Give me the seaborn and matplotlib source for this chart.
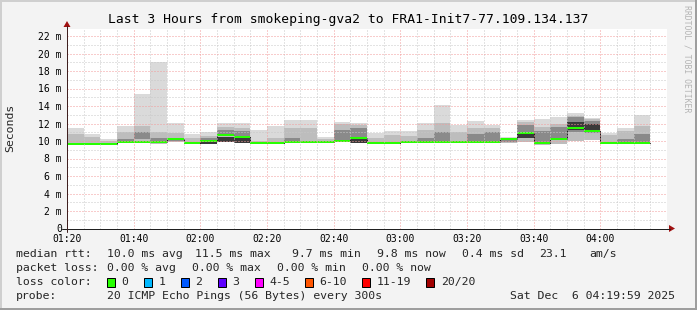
import numpy as np
import matplotlib
matplotlib.use("Agg")
import matplotlib.pyplot as plt
from matplotlib.ticker import MultipleLocator, FixedLocator
from matplotlib.patches import Polygon, Rectangle
import pandas as pd
import seaborn as sns

# ---------------- data ----------------
time_labels = ["01:20", "01:40", "02:00", "02:20", "02:40", "03:00", "03:20", "03:40", "04:00"]
step_min = 5
median_ms = [9.69, 9.69, 9.69, 9.85, 9.85, 9.92, 10.19, 9.81, 10.04, 10.65, 10.49, 9.81,
             9.81, 9.89, 9.89, 9.89, 10.04, 10.34, 9.73, 9.73, 9.89, 9.89, 9.89, 9.89,
             9.89, 9.89, 10.27, 10.95, 9.81, 10.27, 11.49, 11.18, 9.81, 9.81, 9.81]
smoke_low = [9.62, 9.62, 9.62, 9.78, 9.78, 9.70, 9.90, 9.70, 9.70, 9.85, 9.73, 9.75,
             9.75, 9.80, 9.80, 9.80, 9.90, 9.80, 9.70, 9.70, 9.80, 9.80, 9.80, 9.80,
             9.80, 9.80, 9.80, 9.90, 9.50, 9.70, 10.00, 10.10, 9.75, 9.75, 9.75]
smoke_high = [11.52, 10.83, 10.20, 11.75, 15.40, 19.00, 12.02, 10.80, 11.03, 12.02, 12.02, 11.26,
              11.71, 12.40, 12.40, 10.42, 12.17, 12.02, 10.88, 11.10, 11.10, 12.09, 14.15, 11.79,
              12.32, 11.79, 10.50, 12.40, 12.55, 12.78, 13.24, 12.63, 10.88, 11.49, 13.00]
smoke_mid = [10.83, 10.46, 9.95, 11.06, 11.75, 11.00, 10.95, 10.30, 10.60, 11.60, 11.50, 10.00,
             10.30, 11.45, 11.45, 10.20, 11.90, 11.80, 10.40, 10.70, 10.60, 11.30, 12.09, 11.00,
             11.50, 11.50, 10.40, 12.20, 11.60, 12.00, 12.90, 12.50, 10.70, 11.10, 11.70]
core_low = [9.62, 9.62, 9.62, 9.90, 10.20, 9.90, 10.00, 9.70, 9.85, 10.60, 10.50, 9.75,
            9.75, 9.90, 9.80, 9.80, 10.00, 10.40, 9.70, 9.70, 9.80, 9.90, 9.90, 9.80,
            10.00, 9.90, 9.90, 10.30, 9.90, 10.10, 11.00, 10.90, 9.75, 9.90, 9.90]
core_high = [9.62, 9.62, 9.62, 10.20, 11.06, 10.30, 10.40, 9.70, 10.30, 11.30, 11.20, 9.75,
             9.75, 10.30, 9.80, 9.80, 11.30, 11.50, 9.70, 9.70, 9.80, 10.30, 11.00, 9.80,
             10.80, 11.00, 10.30, 11.80, 11.20, 11.60, 12.70, 12.30, 9.75, 10.20, 10.80]
dark_low = [9.62, 9.62, 9.62, 9.78, 9.78, 9.70, 9.90, 9.70, 9.70, 9.91, 9.73, 9.75,
            9.75, 9.80, 9.80, 9.80, 9.90, 9.75, 9.70, 9.70, 9.80, 9.80, 9.80, 9.80,
            9.80, 9.80, 9.80, 10.30, 9.50, 9.70, 11.30, 11.30, 9.75, 9.75, 9.75]
dark_high = [9.62, 9.62, 9.62, 9.78, 9.78, 9.70, 9.90, 9.70, 9.90, 10.48, 10.30, 9.75,
             9.75, 9.80, 9.80, 9.80, 9.90, 10.20, 9.70, 9.70, 9.80, 9.80, 9.80, 9.80,
             9.80, 9.80, 9.80, 10.80, 9.50, 9.70, 12.20, 12.00, 9.75, 9.75, 9.75]

title = "Last 3 Hours from smokeping-gva2 to FRA1-Init7-77.109.134.137"
loss_labels = ["0", "1", "2", "3", "4-5", "6-10", "11-19", "20/20"]
loss_colors = ["#26ff00", "#00b8ff", "#0059ff", "#5e00ff", "#ff00ff", "#ff5500", "#ff0000", "#a10000"]
rtt_items = ["10.0 ms avg", "11.5 ms max", "9.7 ms min", "9.8 ms now", "0.4 ms sd", "23.1", "am/s"]
loss_items = ["0.00 % avg", "0.00 % max", "0.00 % min", "0.00 % now"]
probe_text = "20 ICMP Echo Pings (56 Bytes) every 300s"
date_text = "Sat Dec  6 04:19:59 2025"

# ---------------- layout ----------------
W, H, DPI = 697, 310, 100
X0, YB, PW, PH = 67, 228.5, 600, 200
PX_PER_MS = 8.75
PT = 0.72  # points per pixel

sns.set_theme(style="white")
plt.rcParams["font.family"] = ["DejaVu Sans Mono", "DejaVu Sans"]

fig = plt.figure(figsize=(W / DPI, H / DPI), dpi=DPI, facecolor="#f3f3f3")
ax = fig.add_axes([X0 / W, 1 - YB / H, PW / W, PH / H])
ax.set_facecolor("white")
ax.set_xlim(0, 180)
ax.set_ylim(0, PH / PX_PER_MS)

n = len(median_ms)
starts = np.arange(n) * step_min
lo = np.array(smoke_low)

ax.bar(starts, np.array(smoke_high) - lo, bottom=lo, width=step_min, align="edge",
       color="#dadada", linewidth=0, zorder=1)
ax.bar(starts, np.array(smoke_mid) - lo, bottom=lo, width=step_min, align="edge",
       color="#bdbdbd", linewidth=0, zorder=1.1)
ax.bar(starts, np.array(core_high) - np.array(core_low), bottom=core_low, width=step_min,
       align="edge", color="#8a8a8a", linewidth=0, zorder=1.2)
ax.bar(starts, np.array(dark_high) - np.array(dark_low), bottom=dark_low, width=step_min,
       align="edge", color="#3a3a3a", linewidth=0, zorder=1.3)

df = pd.DataFrame({"t": np.append(starts, starts[-1] + step_min),
                   "median": np.append(median_ms, median_ms[-1])})
sns.lineplot(data=df, x="t", y="median", ax=ax, drawstyle="steps-post", color="#202020",
             lw=1 * PT, estimator=None, zorder=1.5)
ax.hlines(median_ms, starts, starts + step_min, color=loss_colors[0], lw=2 * PT, zorder=1.6)

# grid
ax.xaxis.set_minor_locator(MultipleLocator(5))
ax.yaxis.set_minor_locator(MultipleLocator(1))
ax.set_xticks(np.arange(0, 161, 20))
ax.set_xticklabels(time_labels)
ax.set_yticks(np.arange(0, 23, 2))
ax.set_yticklabels(["0"] + [f"{v} m" for v in range(2, 23, 2)])
ax.set_axisbelow(False)
ax.grid(which="major", color="#f29b9b", linestyle=(0, (1, 2)), lw=1 * PT)
ax.grid(which="minor", color="#c8c8c8", linestyle=(0, (1, 2)), lw=1 * PT)
ax.tick_params(axis="x", which="major", direction="out", length=3 * PT, width=1 * PT,
               color="#e07070", pad=2.5 * PT, labelsize=7)
ax.tick_params(axis="x", which="minor", direction="out", length=2 * PT, width=1 * PT,
               color="#b0b0b0")
ax.tick_params(axis="y", which="both", length=0, pad=5 * PT, labelsize=7)
for lab in ax.get_xticklabels() + ax.get_yticklabels():
    lab.set_color("black")
for s in ax.spines.values():
    s.set_visible(False)
ax.set_xlabel("")
ax.set_ylabel("")

# ---------------- overlay in pixel coordinates ----------------
ov = fig.add_axes([0, 0, 1, 1], facecolor="none")
ov.set_xlim(0, W)
ov.set_ylim(H, 0)
ov.axis("off")

# 3-D frame
ov.plot([0.5, W - 0.5], [0.8, 0.8], color="#cfcfcf", lw=2 * PT, solid_capstyle="butt")
ov.plot([0.8, 0.8], [0, H], color="#cfcfcf", lw=2 * PT, solid_capstyle="butt")
ov.plot([0, W], [H - 0.8, H - 0.8], color="#9e9e9e", lw=2 * PT, solid_capstyle="butt")
ov.plot([W - 0.8, W - 0.8], [0, H], color="#9e9e9e", lw=2 * PT, solid_capstyle="butt")

# axes with arrows
ov.plot([62, 670], [YB, YB], color="#202020", lw=1 * PT)
ov.plot([X0, X0], [232, 26], color="#402020", lw=1 * PT)
ov.add_patch(Polygon([[669, YB - 3.5], [669, YB + 3.5], [675, YB]], closed=True,
                     color="#a01010", lw=0))
ov.add_patch(Polygon([[X0 - 3.5, 27], [X0 + 3.5, 27], [X0, 21]], closed=True,
                     color="#a01010", lw=0))

fs_title = 13.05 * PT
fs_leg = 11.5 * PT
ov.text(348.5, 19, title, ha="center", va="center", fontsize=fs_title, color="#000000")
ov.text(10, 127.5, "Seconds", ha="center", va="center", rotation=90, fontsize=fs_leg)
ov.text(687, 59, "RRDTOOL / TOBI OETIKER", ha="center", va="center", rotation=270,
        fontsize=8.1 * PT, color="#b4b4b4")

# legend
rows_y = [254, 268, 282, 296]
lx = 16
ov.text(lx, rows_y[0], "median rtt:", ha="left", va="center", fontsize=fs_leg)
for xx, s in zip([106.7, 195.0, 292.5, 377.0, 462.0, 539.0, 589.0], rtt_items):
    ov.text(xx, rows_y[0], s, ha="left", va="center", fontsize=fs_leg)
ov.text(lx, rows_y[1], "packet loss:", ha="left", va="center", fontsize=fs_leg)
for xx, s in zip([106.7, 191.8, 276.9, 361.5], loss_items):
    ov.text(xx, rows_y[1], s, ha="left", va="center", fontsize=fs_leg)
ov.text(lx, rows_y[2], "loss color:", ha="left", va="center", fontsize=fs_leg)
box_x = [106.7, 144.2, 180.8, 217.8, 254.9, 305.1, 362.4, 426.4]
for bx, lab, col in zip(box_x, loss_labels, loss_colors):
    ov.add_patch(Rectangle((bx, rows_y[2] - 4.5), 8, 9, facecolor=col, edgecolor="black",
                           lw=1 * PT))
    ov.text(bx + 14.5, rows_y[2], lab, ha="left", va="center", fontsize=fs_leg)
ov.text(lx, rows_y[3], "probe:", ha="left", va="center", fontsize=fs_leg)
ov.text(106.7, rows_y[3], probe_text, ha="left", va="center", fontsize=fs_leg)
ov.text(675, rows_y[3], date_text, ha="right", va="center", fontsize=fs_leg)

fig.savefig("out.png", dpi=DPI, facecolor=fig.get_facecolor())
